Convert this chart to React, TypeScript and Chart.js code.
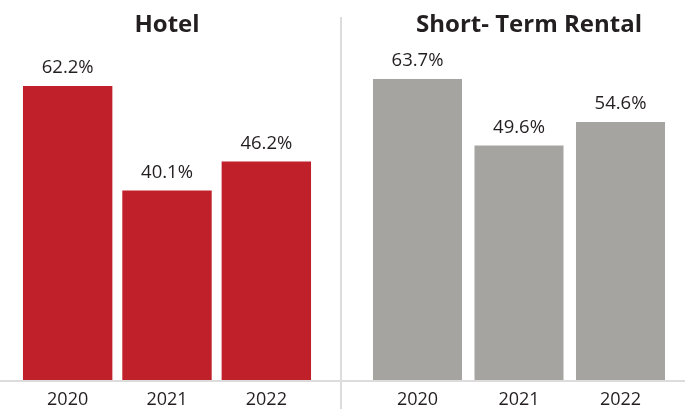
import React, { useEffect, useRef } from "react";
import { Chart, registerables } from "chart.js";

Chart.register(...registerables);

const years = ["2020", "2021", "2022"];
const hotelValues = [62.2, 40.1, 46.2];
const rentalValues = [63.7, 49.6, 54.6];
const panelTitles = ["Hotel", "Short- Term Rental"];

const RED = "#c0202a";
const GRAY = "#a5a4a0";
const TEXT = "#231f20";
const LINE = "#dcdcdc";
const FONT = "'Open Sans', 'Noto Sans', sans-serif";

const panelDecor = {
  id: "panelDecor",
  afterDatasetsDraw(chart: any, _args: any, opts: any) {
    const ctx = chart.ctx;
    const area = chart.chartArea;
    ctx.save();
    // baseline across the whole canvas
    ctx.fillStyle = LINE;
    ctx.fillRect(0, area.bottom, chart.width, 2);
    if (opts.divider) {
      ctx.fillRect(chart.width - 2, 17, 2, chart.height - 17);
    }
    // panel title
    ctx.fillStyle = TEXT;
    ctx.textAlign = "center";
    ctx.textBaseline = "alphabetic";
    ctx.font = `bold 24px ${FONT}`;
    ctx.fillText(opts.title, (area.left + area.right) / 2 + (opts.titleDx || 0), 32);
    // value labels
    ctx.font = `18.5px ${FONT}`;
    const meta = chart.getDatasetMeta(0);
    const data = chart.data.datasets[0].data;
    meta.data.forEach((bar: any, i: number) => {
      ctx.fillText(`${Number(data[i]).toFixed(1)}%`, bar.x, bar.y - 12.5);
    });
    ctx.restore();
  },
};

function Panel(props: {
  title: string;
  titleDx: number;
  values: number[];
  color: string;
  padLeft: number;
  padRight: number;
  barPct: number;
  divider: boolean;
}) {
  const ref = useRef<HTMLCanvasElement>(null);
  useEffect(() => {
    const chart = new Chart(ref.current!, {
      type: "bar",
      data: {
        labels: years,
        datasets: [
          {
            data: props.values,
            backgroundColor: props.color,
            barPercentage: props.barPct,
            categoryPercentage: 1,
            borderWidth: 0,
          },
        ],
      },
      options: {
        animation: false,
        responsive: false,
        maintainAspectRatio: false,
        layout: {
          padding: { left: props.padLeft, right: props.padRight, top: 49.1, bottom: 0 },
        },
        plugins: {
          legend: { display: false },
          tooltip: { enabled: false },
          title: { display: false },
          panelDecor: { divider: props.divider, title: props.title, titleDx: props.titleDx },
        } as any,
        scales: {
          x: {
            grid: { display: false, drawTicks: false },
            border: { display: false },
            afterFit(scale: any) {
              scale.height = 29;
            },
            ticks: {
              color: TEXT,
              padding: 9.5,
              font: { family: FONT, size: 18 },
            },
          },
          y: {
            display: false,
            min: 0,
            max: 70,
          },
        },
      },
      plugins: [panelDecor],
    });
    return () => chart.destroy();
  }, []);
  return <canvas ref={ref} width={props.divider ? 342 : 343} height={409} style={{ display: "block" }} />;
}

export default function App() {
  return (
    <div
      style={{
        position: "absolute",
        left: 0,
        top: 0,
        width: 685,
        height: 409,
        background: "#ffffff",
        display: "flex",
        overflow: "hidden",
      }}
    >
      <Panel title={panelTitles[0]} titleDx={0} values={hotelValues} color={RED} padLeft={18} padRight={26} barPct={0.9} divider={true} />
      <Panel title={panelTitles[1]} titleDx={10} values={rentalValues} color={GRAY} padLeft={24.75} padRight={13.75} barPct={0.877} divider={false} />
    </div>
  );
}
